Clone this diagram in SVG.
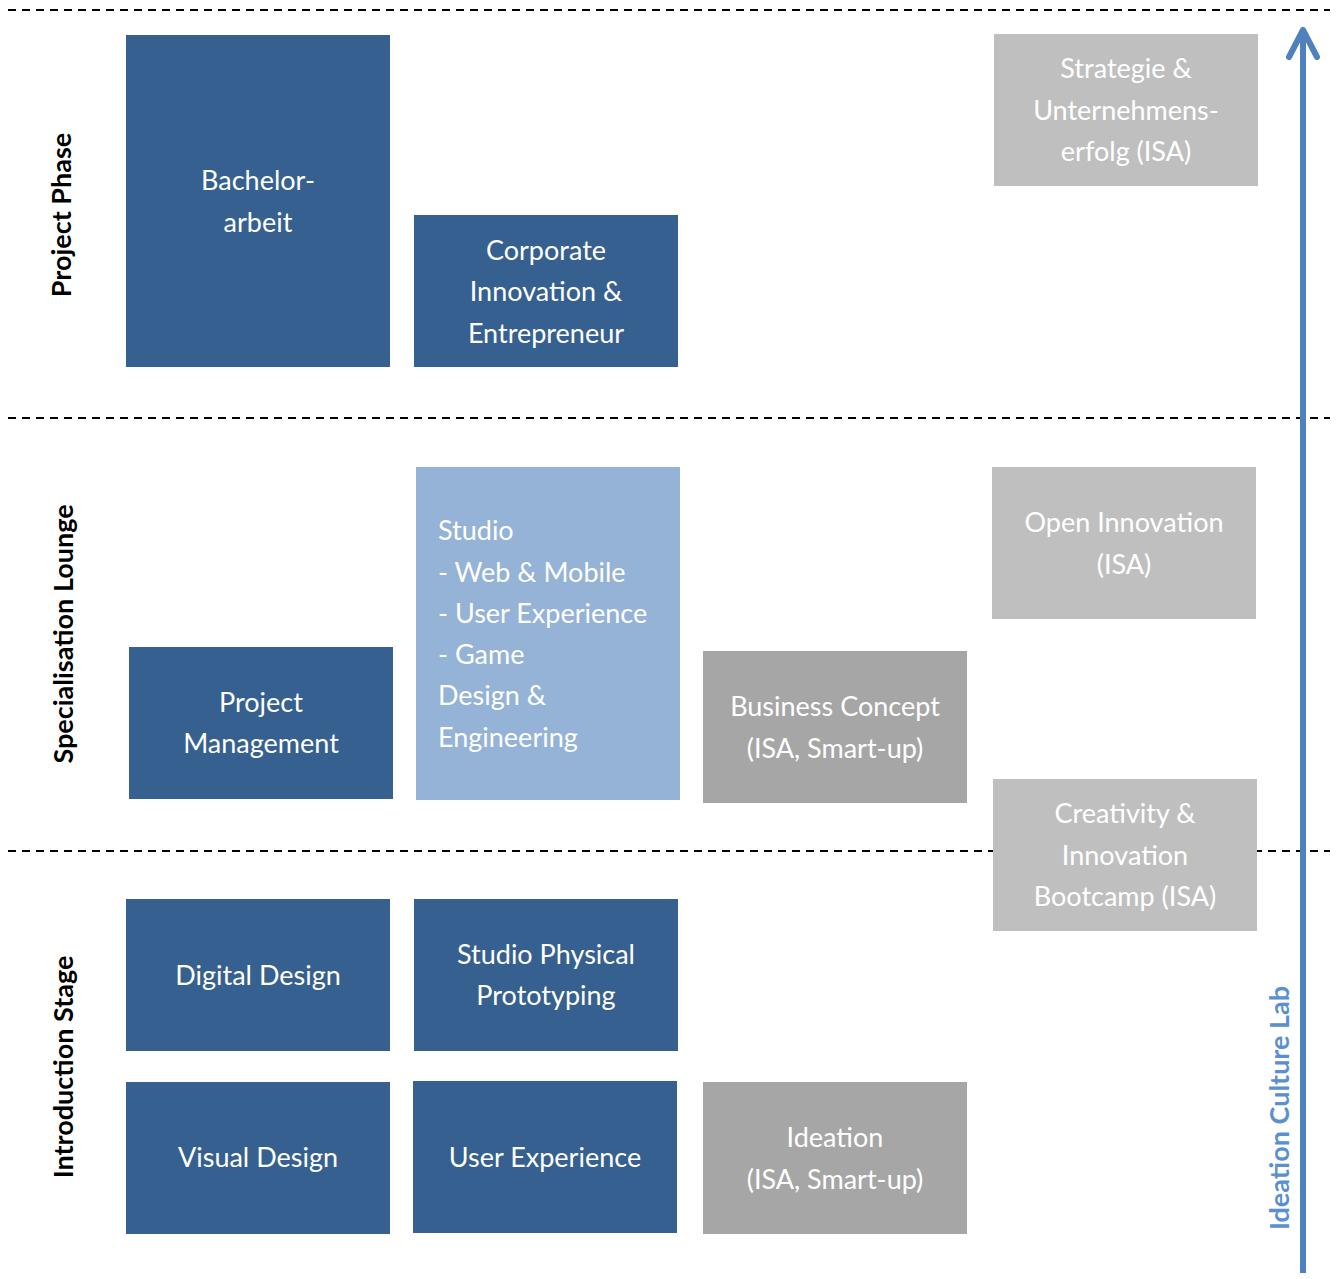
<svg xmlns="http://www.w3.org/2000/svg" width="1336" height="1279" viewBox="0 0 1336 1279">
<style>
.dk{fill:#36608F}
.lb{fill:#95B3D7}
.g1{fill:#BFBFBF}
.g2{fill:#A6A6A6}
.t{font-family:Lato,"Open Sans",sans-serif;font-size:27px;fill:#fff;text-anchor:middle;dominant-baseline:central}
.tl{text-anchor:start}
.side{font-family:Lato,"Liberation Sans",sans-serif;font-size:27px;font-weight:bold;fill:#000;text-anchor:middle;dominant-baseline:central}
.dash{stroke:#000;stroke-width:2;stroke-dasharray:8 6;fill:none}
</style>
<rect width="1336" height="1279" fill="#fff"/>
<g id="dividers">
<line class="dash" x1="8" y1="10" x2="1330" y2="10"/>
<line class="dash" x1="8" y1="418" x2="1330" y2="418"/>
<line class="dash" x1="8" y1="851" x2="1330" y2="851"/>
</g>
<g id="bachelor"><rect class="dk" x="126" y="35" width="264" height="332"/>
<text class="t" x="258" y="179">Bachelor-</text><text class="t" x="258" y="221">arbeit</text></g>
<g id="corporate"><rect class="dk" x="414" y="215" width="264" height="152"/>
<text class="t" x="546" y="249">Corporate</text><text class="t" x="546" y="290">Innovation &amp;</text><text class="t" x="546" y="332">Entrepreneur</text></g>
<g id="strategie"><rect class="g1" x="994" y="34" width="264" height="152"/>
<text class="t" x="1126" y="67">Strategie &amp;</text><text class="t" x="1126" y="109">Unternehmens-</text><text class="t" x="1126" y="150">erfolg (ISA)</text></g>
<g id="studio"><rect class="lb" x="416" y="467" width="264" height="333"/>
<text class="t tl" x="438" y="529">Studio</text><text class="t tl" x="438" y="571">- Web &amp; Mobile</text><text class="t tl" x="438" y="612">- User Experience</text><text class="t tl" x="438" y="653">- Game</text><text class="t tl" x="438" y="694">Design &amp;</text><text class="t tl" x="438" y="736">Engineering</text></g>
<g id="pm"><rect class="dk" x="129" y="647" width="264" height="152"/>
<text class="t" x="261" y="701">Project</text><text class="t" x="261" y="742">Management</text></g>
<g id="business"><rect class="g2" x="703" y="651" width="264" height="152"/>
<text class="t" x="835" y="705">Business Concept</text><text class="t" x="835" y="747">(ISA, Smart-up)</text></g>
<g id="openinnovation"><rect class="g1" x="992" y="467" width="264" height="152"/>
<text class="t" x="1124" y="521">Open Innovation</text><text class="t" x="1124" y="563">(ISA)</text></g>
<g id="creativity"><rect class="g1" x="993" y="779" width="264" height="152"/>
<text class="t" x="1125" y="812">Creativity &amp;</text><text class="t" x="1125" y="854">Innovation</text><text class="t" x="1125" y="895">Bootcamp (ISA)</text></g>
<g id="digital"><rect class="dk" x="126" y="899" width="264" height="152"/>
<text class="t" x="258" y="974">Digital Design</text></g>
<g id="physical"><rect class="dk" x="414" y="899" width="264" height="152"/>
<text class="t" x="546" y="953">Studio Physical</text><text class="t" x="546" y="994">Prototyping</text></g>
<g id="visual"><rect class="dk" x="126" y="1082" width="264" height="152"/>
<text class="t" x="258" y="1156">Visual Design</text></g>
<g id="ux"><rect class="dk" x="413" y="1081" width="264" height="152"/>
<text class="t" x="545" y="1156">User Experience</text></g>
<g id="ideation"><rect class="g2" x="703" y="1082" width="264" height="152"/>
<text class="t" x="835" y="1136">Ideation</text><text class="t" x="835" y="1178">(ISA, Smart-up)</text></g>
<g id="labels">
<text class="side" transform="translate(60 215) rotate(-90)">Project Phase</text>
<text class="side" transform="translate(62 634) rotate(-90)">Specialisation Lounge</text>
<text class="side" transform="translate(62 1067) rotate(-90)">Introduction Stage</text>
<text class="side" style="fill:#5A8FD0" transform="translate(1278 1108) rotate(-90)">Ideation Culture Lab</text>
</g>
<g id="connectors">
<line x1="1303" y1="1273" x2="1303" y2="32" stroke="#4F81BD" stroke-width="6"/>
<polyline points="1289,57 1303,30 1317,57" fill="none" stroke="#4F81BD" stroke-width="6" stroke-linecap="round" stroke-linejoin="round"/>
</g>
</svg>
